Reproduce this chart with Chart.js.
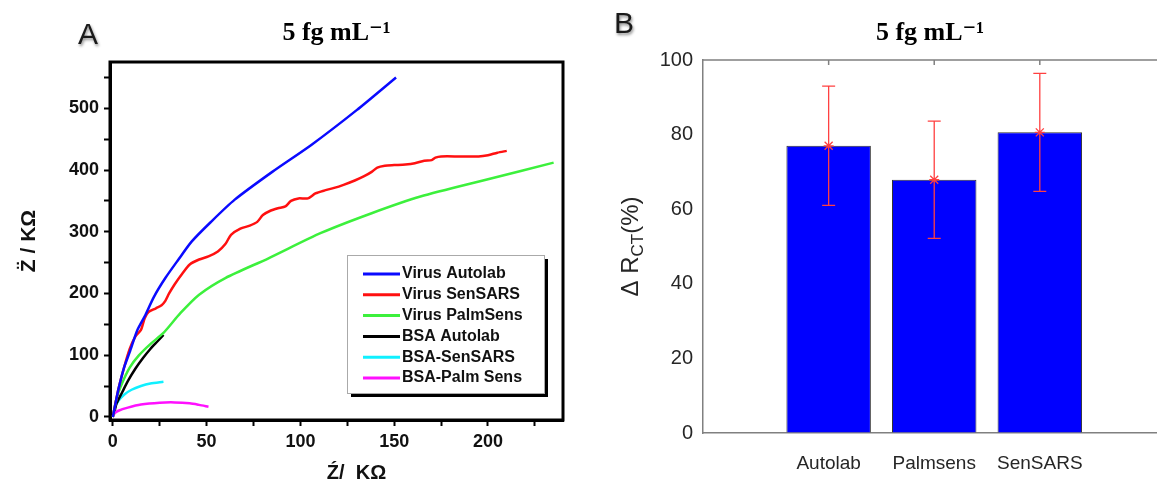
<!DOCTYPE html>
<html>
<head>
<meta charset="utf-8">
<script src="https://cdn.jsdelivr.net/npm/chart.js@4.4.1/dist/chart.umd.min.js"></script>
<style>
  html, body { margin: 0; padding: 0; background: #fff; overflow: hidden; }
  #wrapA { position: absolute; left: 0; top: 0; width: 580px; height: 486px; }
  #wrapB { position: absolute; left: 580px; top: 0; width: 577px; height: 486px; }
  .panel { position: absolute; font-family: 'Liberation Sans', Arial, sans-serif; font-size: 30px; color: #1a1a1a; text-shadow: 1px 2px 3px rgba(0,0,0,0.45); }
</style>
</head>
<body>
<div id="wrapA"><canvas id="chartA" width="580" height="486"></canvas></div>
<div id="wrapB"><canvas id="chartB" width="577" height="486"></canvas></div>
<div class="panel" style="left:78px; top:17px;">A</div>
<div class="panel" style="left:614px; top:6px;">B</div>
<script>
// ---- panel A : Nyquist curves (Z' , Z'' in kOhm) ----
const virusAutolab = [[0,0],[1,15],[3,45],[6,80],[9,105],[13,140],[17,163],[22,195],[28,225],[35,255],[42,284],[52,315],[65,352],[85,397],[106,441],[130,497],[151,550]];
const virusSenSARS = [[0,0],[3,45],[6,80],[9,110],[12,130],[15,141],[17,160],[19,170],[23,176],[26,181],[28,188],[30,200],[33,215],[37,232],[41,247],[46,255],[51,260],[56,268],[60,280],[63,295],[68,305],[73,310],[77,316],[80,327],[84,334],[88,338],[92,341],[95,350],[99,354],[104,354],[108,362],[113,367],[118,371],[123,376],[129,383],[134,390],[138,397],[141,404],[145,407],[150,408],[156,409],[161,411],[166,415],[170,416],[172,420],[175,422],[185,422],[195,422],[200,424],[205,428],[210,431]];
const virusPalmSens = [[0,0],[2,30],[5,55],[9,80],[14,100],[20,118],[27,136],[36,168],[46,198],[60,225],[83,257],[111,298],[138,330],[164,357],[200,385],[235,412]];
const bsaAutolab = [[1,10],[2,22],[5,40],[8,58],[12,78],[16,95],[20,110],[24,123],[27,133]];
const bsaSenSARS = [[0,0],[1,14],[3,26],[6,36],[10,44],[15,50],[20,54],[27,57]];
const bsaPalmSens = [[0,0],[1,6],[3,10],[8,15],[15,20],[25,23],[33,23.5],[41,22],[46,19.5],[51,16.5]];

const seriesLabels = ['Virus Autolab', 'Virus SenSARS', 'Virus PalmSens', 'BSA Autolab', 'BSA-SenSARS', 'BSA-Palm Sens'];
const seriesColors = ['#0a0aff', '#ff1010', '#3cf03c', '#000000', '#10f0ff', '#ff10ff'];
const seriesPoints = [virusAutolab, virusSenSARS, virusPalmSens, bsaAutolab, bsaSenSARS, bsaPalmSens];

// ---- panel B : delta Rct bars ----
const instruments = ['Autolab', 'Palmsens', 'SenSARS'];
const deltaRct = [77.0, 67.9, 80.6];
const deltaRctErr = [16.0, 15.7, 15.8];

const titleText = '5 fg mL\u207B\u00B9';
const sans = "'Liberation Sans', Arial, sans-serif";
const serif = "'Liberation Serif', 'DejaVu Serif', serif";

// frame, x title and legend for panel A
const frameA = {
  id: 'frameA',
  afterDraw(chart) {
    const { ctx, chartArea: a } = chart;
    ctx.save();
    ctx.strokeStyle = '#000';
    ctx.lineWidth = 3;
    ctx.strokeRect(a.left, a.top, a.right - a.left, a.bottom - a.top);

    // x axis title, sits a little right of centre like the original
    ctx.fillStyle = '#111';
    ctx.font = 'bold 20px ' + sans;
    ctx.textAlign = 'center';
    ctx.textBaseline = 'middle';
    ctx.fillText('Z\u0301/  K\u03A9', (a.left + a.right) / 2 + 20, a.bottom + 53);
    ctx.textAlign = 'left';

    // legend box
    const bx = 347, by = 255, bw = 197, bh = 138;
    ctx.fillStyle = '#000';
    ctx.fillRect(bx + 4, by + 4, bw, bh);
    ctx.fillStyle = '#fff';
    ctx.fillRect(bx, by, bw, bh);
    ctx.lineWidth = 1;
    ctx.strokeStyle = '#aaa';
    ctx.strokeRect(bx + 0.5, by + 0.5, bw, bh);
    ctx.font = 'bold 16px ' + sans;
    chart.data.datasets.forEach((ds, i) => {
      const yy = by + 19 + i * 20.8;
      ctx.strokeStyle = ds.borderColor;
      ctx.lineWidth = 3;
      ctx.beginPath();
      ctx.moveTo(bx + 16, yy);
      ctx.lineTo(bx + 53, yy);
      ctx.stroke();
      ctx.fillStyle = '#111';
      ctx.fillText(ds.label, bx + 55, yy);
    });
    ctx.restore();
  }
};

new Chart(document.getElementById('chartA'), {
  type: 'line',
  data: {
    datasets: seriesPoints.map((pts, i) => ({
      label: seriesLabels[i],
      data: pts.map(p => ({ x: p[0], y: p[1] })),
      borderColor: seriesColors[i],
      backgroundColor: seriesColors[i],
      borderWidth: 2.5,
      pointRadius: 0,
      tension: 0.25,
      fill: false
    }))
  },
  options: {
    responsive: false,
    animation: false,
    layout: { padding: { left: 0, right: 17, top: 0, bottom: 0 } },
    plugins: {
      legend: { display: false },
      tooltip: { enabled: false },
      title: {
        display: true, text: titleText, fullSize: false, color: '#000',
        font: { family: serif, size: 26, weight: 'bold' },
        padding: { top: 18, bottom: 12.8 }
      }
    },
    scales: {
      x: {
        type: 'linear', min: -1.5, max: 240,
        ticks: { stepSize: 25, includeBounds: false, autoSkip: false, maxRotation: 0,
          callback: v => (v % 50 === 0 ? v : ''),
          font: { family: sans, size: 18, weight: 'bold' }, color: '#111', padding: 5 },
        grid: { drawOnChartArea: false, drawTicks: true, tickLength: 6, tickColor: '#000', tickWidth: 2 },
        border: { display: true, color: '#000', width: 3 },
        afterFit: s => { s.height = 66; }
      },
      y: {
        type: 'linear', min: -5, max: 575,
        ticks: { stepSize: 50, includeBounds: false, autoSkip: false,
          callback: v => (v % 100 === 0 ? v : ''),
          font: { family: sans, size: 18, weight: 'bold' }, color: '#111', padding: 5 },
        grid: { drawOnChartArea: false, drawTicks: true, tickLength: 6, tickColor: '#000', tickWidth: 2 },
        border: { display: true, color: '#000', width: 3 },
        title: { display: true, text: 'Z\u0308 / K\u03A9', color: '#111',
          font: { family: sans, size: 21, weight: 'bold' }, padding: { top: 17 } },
        afterFit: s => { s.width = 110; }
      }
    }
  },
  plugins: [frameA]
});

// error bars, top axis line and y title for panel B
const errorBars = {
  id: 'errorBars',
  afterDatasetsDraw(chart) {
    const { ctx, scales: { x, y } } = chart;
    ctx.save();
    ctx.strokeStyle = '#ff4040';
    ctx.lineWidth = 1.3;
    deltaRct.forEach((v, i) => {
      const px = x.getPixelForValue(i + 1);
      const top = y.getPixelForValue(v + deltaRctErr[i]);
      const bot = y.getPixelForValue(v - deltaRctErr[i]);
      const mid = y.getPixelForValue(v);
      ctx.beginPath();
      ctx.moveTo(px, top); ctx.lineTo(px, bot);
      ctx.moveTo(px - 6.5, top); ctx.lineTo(px + 6.5, top);
      ctx.moveTo(px - 6.5, bot); ctx.lineTo(px + 6.5, bot);
      ctx.moveTo(px - 5, mid); ctx.lineTo(px + 5, mid);
      ctx.moveTo(px - 4, mid - 4); ctx.lineTo(px + 4, mid + 4);
      ctx.moveTo(px - 4, mid + 4); ctx.lineTo(px + 4, mid - 4);
      ctx.stroke();
    });
    ctx.restore();
  }
};

const frameB = {
  id: 'frameB',
  afterDraw(chart) {
    const { ctx, chartArea: a, scales: { x } } = chart;
    ctx.save();
    ctx.strokeStyle = '#808080';
    ctx.lineWidth = 1.5;
    ctx.beginPath();
    ctx.moveTo(a.left, a.top);
    ctx.lineTo(a.right, a.top);
    instruments.forEach((_, i) => {
      const px = x.getPixelForValue(i + 1);
      ctx.moveTo(px, a.top);
      ctx.lineTo(px, a.top + 5);
    });
    ctx.stroke();

    // y title: Δ R_CT(%)
    const cy = (a.top + a.bottom) / 2;
    ctx.translate(51, cy);
    ctx.rotate(-Math.PI / 2);
    ctx.fillStyle = '#262626';
    ctx.textBaseline = 'middle';
    const big = '24px ' + sans, small = '17px ' + sans;
    ctx.font = big;
    const w1 = ctx.measureText('\u0394 R').width;
    const w3 = ctx.measureText('(%)').width;
    ctx.font = small;
    const w2 = ctx.measureText('CT').width;
    let xx = -(w1 + w2 + w3) / 2;
    ctx.font = big;
    ctx.fillText('\u0394 R', xx, 0);
    xx += w1;
    ctx.font = small;
    ctx.fillText('CT', xx, 7);
    xx += w2;
    ctx.font = big;
    ctx.fillText('(%)', xx, 0);
    ctx.restore();
  }
};

new Chart(document.getElementById('chartB'), {
  type: 'bar',
  data: {
    datasets: [{
      label: '\u0394 RCT (%)',
      data: instruments.map((n, i) => ({ x: i + 1, y: deltaRct[i] })),
      backgroundColor: '#0000ff',
      borderColor: '#333',
      borderWidth: 1,
      barPercentage: 0.8,
      categoryPercentage: 1.0
    }]
  },
  options: {
    responsive: false,
    animation: false,
    layout: { padding: 0 },
    plugins: {
      legend: { display: false },
      tooltip: { enabled: false },
      title: {
        display: true, text: titleText, fullSize: false, color: '#000',
        font: { family: serif, size: 26, weight: 'bold' },
        padding: { top: 18, bottom: 10.8 }
      }
    },
    scales: {
      x: {
        type: 'linear', min: -0.19, max: 4.11, offset: false,
        afterBuildTicks: s => { s.ticks = instruments.map((_, i) => ({ value: i + 1 })); },
        ticks: { autoSkip: false, maxRotation: 0, callback: v => instruments[v - 1],
          font: { family: sans, size: 19 }, color: '#262626', padding: 11 },
        grid: { display: false },
        border: { display: true, color: '#808080', width: 1.5 },
        afterFit: s => { s.height = 53; }
      },
      y: {
        min: 0, max: 100,
        ticks: { stepSize: 20, font: { family: sans, size: 20 }, color: '#262626', padding: 10 },
        grid: { drawOnChartArea: false, drawTicks: false },
        border: { display: true, color: '#808080', width: 1.5 },
        afterFit: s => { s.width = 123; }
      }
    }
  },
  plugins: [errorBars, frameB]
});
</script>
</body>
</html>
